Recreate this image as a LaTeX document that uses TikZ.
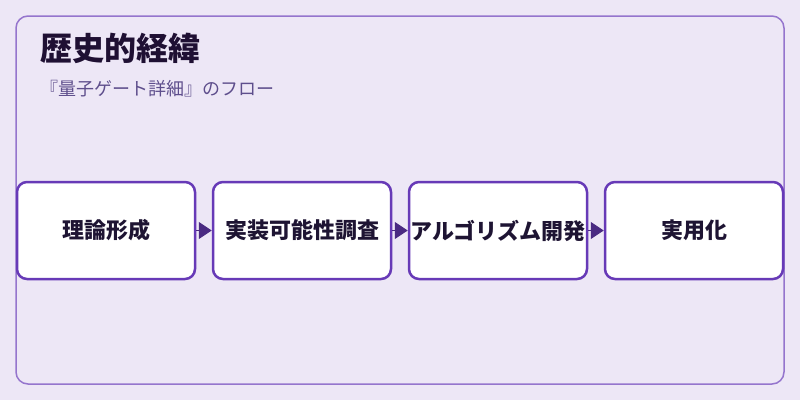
\documentclass[tikz,border=0pt]{standalone}
\usepackage{fontspec}
\setmainfont{Noto Sans CJK JP}
\usetikzlibrary{arrows.meta}
\definecolor{bgc}{HTML}{EDE7F6}
\definecolor{outerc}{HTML}{9575CD}
\definecolor{boxc}{HTML}{673AB7}
\definecolor{arrc}{HTML}{4A2A82}
\definecolor{titlec}{HTML}{1F1033}
\definecolor{subc}{HTML}{5E4E8C}
\definecolor{textc}{HTML}{1E1433}
\tikzset{
  stepbox/.style={draw=boxc, line width=2.5pt, fill=white, rounded corners=10pt,
    minimum width=178pt, minimum height=97pt, inner sep=0pt,
    font=\fontsize{22pt}{25pt}\selectfont\bfseries, text=textc},
  flowarrow/.style={draw=arrc, line width=1pt, -{Triangle[length=13pt,width=17pt]}, arrc}
}
\begin{document}
\begin{tikzpicture}[x=1pt,y=-1pt]
\useasboundingbox (0,0) rectangle (800,400);
\fill[bgc] (0,0) rectangle (800,400);
\draw[outerc, line width=1.5pt, rounded corners=12pt] (16,16) rectangle (784,384);
\node[anchor=base west, inner sep=0pt, text=titlec, font=\fontsize{32pt}{36pt}\selectfont\bfseries] (title) at (40,60) {歴史的経緯};
\node[anchor=base west, inner sep=0pt, text=subc, font=\fontsize{18pt}{22pt}\selectfont] (sub) at (40,95) {『量子ゲート詳細』のフロー};
\node[stepbox] (b1) at (106,230.5) {理論形成};
\node[stepbox] (b2) at (302,230.5) {実装可能性調査};
\node[stepbox] (b3) at (498,230.5) {アルゴリズム開発};
\node[stepbox] (b4) at (694,230.5) {実用化};
\draw[flowarrow] (b1.east) -- (b2.west);
\draw[flowarrow] (b2.east) -- (b3.west);
\draw[flowarrow] (b3.east) -- (b4.west);
\end{tikzpicture}
\end{document}
